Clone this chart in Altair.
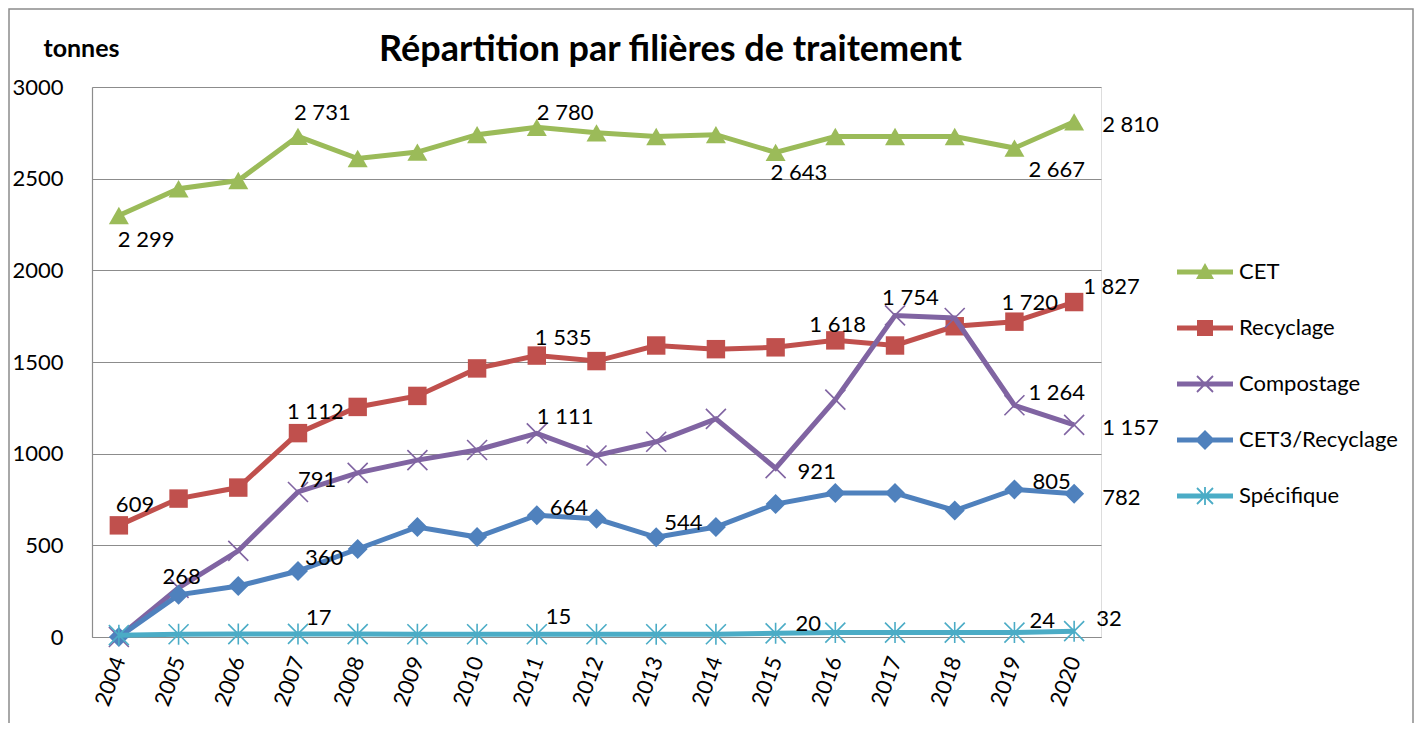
import altair as alt
import pandas as pd

# ---------------- data ----------------
years = list(range(2004, 2021))
series_names = ["CET", "Recyclage", "Compostage", "CET3/Recyclage", "Spécifique"]
cet = [2299, 2445, 2490, 2731, 2610, 2645, 2740, 2780, 2750, 2730, 2740, 2643, 2730, 2730, 2730, 2667, 2810]
recyclage = [609, 755, 815, 1112, 1255, 1315, 1465, 1535, 1505, 1590, 1570, 1580, 1618, 1590, 1695, 1720, 1827]
compostage = [0, 268, 470, 791, 895, 965, 1020, 1111, 990, 1065, 1190, 921, 1295, 1754, 1740, 1264, 1157]
cet3 = [0, 230, 278, 360, 480, 600, 545, 664, 645, 544, 600, 725, 785, 785, 690, 805, 782]
specifique = [10, 15, 16, 17, 16, 15, 15, 15, 15, 15, 15, 20, 24, 24, 24, 24, 32]
y_ticks = [0, 500, 1000, 1500, 2000, 2500, 3000]

# which points carry a value label (series, year)
labelled = [
    ("CET", 2004), ("CET", 2007), ("CET", 2011), ("CET", 2015), ("CET", 2019), ("CET", 2020),
    ("Recyclage", 2004), ("Recyclage", 2007), ("Recyclage", 2011), ("Recyclage", 2016),
    ("Recyclage", 2019), ("Recyclage", 2020),
    ("Compostage", 2005), ("Compostage", 2007), ("Compostage", 2011), ("Compostage", 2015),
    ("Compostage", 2017), ("Compostage", 2019), ("Compostage", 2020),
    ("CET3/Recyclage", 2007), ("CET3/Recyclage", 2011), ("CET3/Recyclage", 2013),
    ("CET3/Recyclage", 2019), ("CET3/Recyclage", 2020),
    ("Spécifique", 2007), ("Spécifique", 2011), ("Spécifique", 2015), ("Spécifique", 2019),
    ("Spécifique", 2020),
]

# ---------------- styles ----------------
FONT = "Lato"
colors = ["#9BBB59", "#C0504D", "#8064A2", "#4F81BD", "#4BACC6"]
GRID = "#8c8c8c"

# label offsets (dx, dy) in pixels, same order as `labelled`
label_offsets = [
    (-1, 24), (-4, -23), (0, -14), (-5, 21), (14, 22), (28, 3),
    (-3, -20), (-11, -21), (-2, -18), (-26, -15), (-13, -19), (9, -15),
    (-16, -11), (0, -12), (0, -16), (22, 4), (-13, -17), (14, -12), (28, 3),
    (7, -13), (13, -7), (8, -14), (18, -7), (28, 4),
    (8, -16), (9, -17), (20, -9), (15, -12), (22, -12),
]

X_MARK = "M-1,-1L1,1M-1,1L1,-1"
STAR_MARK = "M-1,-1L1,1M-1,1L1,-1M0,-1.05L0,1.05"
marker_styles = {
    "CET": dict(shape="triangle-up", size=400, filled=True),
    "Recyclage": dict(shape="square", size=340, filled=True),
    "Compostage": dict(shape=X_MARK, size=400, filled=False, strokeWidth=1.6),
    "CET3/Recyclage": dict(shape="diamond", size=400, filled=True),
    "Spécifique": dict(shape=STAR_MARK, size=400, filled=False, strokeWidth=1.6),
}

# ---------------- legend symbols (line + marker as one filled path) ----------------
R = 28.0  # half symbol width in px


def poly(pts):
    area = sum(pts[i][0] * pts[(i + 1) % len(pts)][1] - pts[(i + 1) % len(pts)][0] * pts[i][1]
               for i in range(len(pts)))
    if area < 0:
        pts = pts[::-1]
    return "M" + "L".join(f"{x / R:.4f},{y / R:.4f}" for x, y in pts) + "Z"


def bar(x1, y1, x2, y2, t):
    dx, dy = x2 - x1, y2 - y1
    n = (dx * dx + dy * dy) ** 0.5
    nx, ny = -dy / n * t / 2, dx / n * t / 2
    return poly([(x1 + nx, y1 + ny), (x2 + nx, y2 + ny), (x2 - nx, y2 - ny), (x1 - nx, y1 - ny)])


line_part = poly([(-R, -2.6), (R, -2.6), (R, 2.6), (-R, 2.6)])
legend_paths = [
    line_part + poly([(0, -9), (9, 7), (-9, 7)]),
    line_part + poly([(-8, -8), (8, -8), (8, 8), (-8, 8)]),
    line_part + bar(-8, -8, 8, 8, 1.8) + bar(-8, 8, 8, -8, 1.8),
    line_part + poly([(0, -10), (10, 0), (0, 10), (-10, 0)]),
    line_part + bar(-8, -8, 8, 8, 1.8) + bar(-8, 8, 8, -8, 1.8) + bar(0, -9, 0, 9, 1.8),
]

# ---------------- table ----------------
rows = []
for name, vals in zip(series_names, [cet, recyclage, compostage, cet3, specifique]):
    for yr, v in zip(years, vals):
        rows.append({"series": name, "year": yr, "value": v,
                     "label": f"{v:,}".replace(",", " ")})
df = pd.DataFrame(rows)

X = alt.X("year:O", scale=alt.Scale(type="point", padding=0.45),
          axis=alt.Axis(title=None, labelAngle=-70, labelAlign="right", labelBaseline="middle",
                        labelFont=FONT, labelFontSize=22, labelColor="black", labelPadding=20,
                        ticks=False, domainColor=GRID, domainWidth=1.2, grid=False))
Y = alt.Y("value:Q", scale=alt.Scale(domain=[0, 3000], nice=False),
          axis=alt.Axis(values=y_ticks, format="d", title="tonnes", titleAngle=0,
                        titleX=-11, titleY=-39, titleAlign="center", titleBaseline="middle",
                        titleFont=FONT, titleFontSize=25, titleFontWeight="bold", titleColor="black",
                        labelFont=FONT, labelFontSize=22, labelColor="black", labelPadding=29,
                        ticks=False, tickSize=0, domainColor=GRID, domainWidth=1.2,
                        grid=True, gridColor=GRID, gridWidth=1.2))

base = alt.Chart(df)

layers = []
# chart-area frame
layers.append(
    base.mark_rect(fill=None, stroke="#8c8c8c", strokeWidth=1.5, clip=False).encode(
        x=alt.value(-83), x2=alt.value(1321), y=alt.value(-78), y2=alt.value(660)
    ).transform_filter("datum.year == 2004 && datum.series == 'CET'")
)

for name, col in zip(series_names, colors):
    sub = base.transform_filter(alt.datum.series == name)
    layers.append(sub.mark_line(color=col, strokeWidth=5).encode(x=X, y=Y))
    st = marker_styles[name]
    if st["filled"]:
        pm = sub.mark_point(shape=st["shape"], size=st["size"], filled=True, fill=col,
                            stroke=col, strokeWidth=0, opacity=1)
    else:
        pm = sub.mark_point(shape=st["shape"], size=st["size"], filled=False, stroke=col,
                            strokeWidth=st["strokeWidth"], opacity=1)
    layers.append(pm.encode(x=X, y=Y))

# legend carrier layer (no marks drawn)
leg = alt.Legend(title=None, orient="none", legendX=1085, legendY=157, symbolSize=3136,
                 symbolStrokeWidth=0, labelFont=FONT, labelFontSize=22, labelColor="black",
                 labelOffset=6, rowPadding=17, padding=0, labelLimit=400)
layers.append(
    base.transform_filter("false").mark_point(filled=True, opacity=1).encode(
        x=X, y=Y,
        color=alt.Color("series:N", scale=alt.Scale(domain=series_names, range=colors), legend=leg),
        shape=alt.Shape("series:N", scale=alt.Scale(domain=series_names, range=legend_paths), legend=leg),
    )
)

# value labels
for (name, yr), (dx, dy) in zip(labelled, label_offsets):
    layers.append(
        base.transform_filter((alt.datum.series == name) & (alt.datum.year == yr))
        .mark_text(align="left", baseline="middle", dx=dx, dy=dy, font=FONT, fontSize=22,
                   color="black")
        .encode(x=X, y=Y, text="label:N")
    )

chart = alt.layer(*layers).properties(
    width=1009, height=550,
    title=alt.TitleParams("Répartition par filières de traitement", font=FONT, fontSize=36,
                          fontWeight="bold", color="black", anchor="middle", frame="group",
                          dx=74, offset=-61),
    autosize=alt.AutoSizeParams(type="none"),
    padding={"left": 84, "top": 79, "right": 316, "bottom": 86},
).configure_view(stroke=None).configure(background="white")

chart.save("out.html", embed_options={"renderer": "svg", "actions": False})
